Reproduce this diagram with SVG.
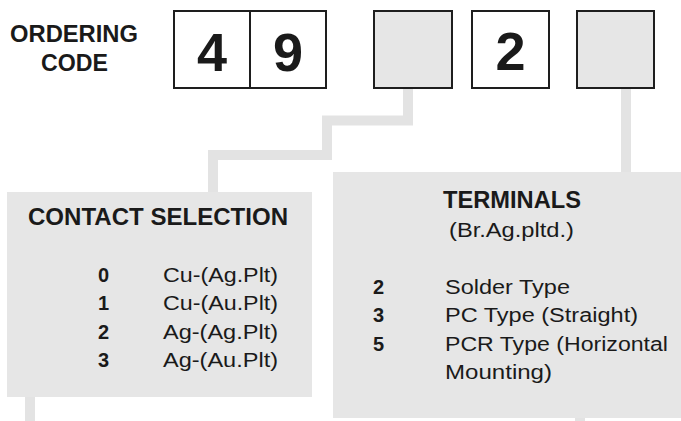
<svg xmlns="http://www.w3.org/2000/svg" width="681" height="421" viewBox="0 0 681 421">
<style>
.code{fill:#fff;stroke:#1e1e1e;stroke-width:2}
.codeg{fill:#e6e6e6;stroke:#1e1e1e;stroke-width:2}
.panel{fill:#e6e6e6}
.conn{fill:none;stroke:#e3e3e3;stroke-width:10;stroke-linejoin:miter}
text{font-family:"Liberation Sans",Arial,Helvetica,sans-serif;fill:#1a1a1a}
.hd{font-weight:bold;font-size:23px}
.big{font-weight:bold;font-size:54px;text-anchor:middle}
.num{font-weight:bold;font-size:20px}
.item{font-size:20px}
</style>
<rect width="681" height="421" fill="#fff"/>
<g id="connectors">
<path class="conn" d="M408 88 V120.5 H327 V155 H213 V193"/>
<path class="conn" d="M626 88 V173"/>
<path class="conn" d="M30 396 V421"/>
<path class="conn" d="M580 417 V421"/>
</g>
<g id="label-ordering-code">
<text class="hd" x="74" y="42" text-anchor="middle" textLength="128" lengthAdjust="spacingAndGlyphs">ORDERING</text>
<text class="hd" x="74.5" y="71" text-anchor="middle" textLength="67" lengthAdjust="spacingAndGlyphs">CODE</text>
</g>
<g id="code-4">
<rect class="code" x="174" y="11" width="76" height="77"/>
<text class="big" x="212" y="71">4</text>
</g>
<g id="code-9">
<rect class="code" x="250" y="11" width="76" height="77"/>
<text class="big" x="288" y="71">9</text>
</g>
<g id="code-contact">
<rect class="codeg" x="374" y="11" width="78" height="77"/>
</g>
<g id="code-2">
<rect class="code" x="472" y="11" width="77" height="77"/>
<text class="big" x="510.5" y="70">2</text>
</g>
<g id="code-terminal">
<rect class="codeg" x="577" y="11" width="77" height="77"/>
</g>
<g id="contact-selection">
<rect class="panel" x="7" y="192" width="305" height="205"/>
<text class="hd" x="158" y="225" text-anchor="middle" textLength="260" lengthAdjust="spacingAndGlyphs">CONTACT SELECTION</text>
<text class="num" x="98" y="282">0</text>
<text class="item" x="163" y="282" textLength="115" lengthAdjust="spacingAndGlyphs">Cu-(Ag.Plt)</text>
<text class="num" x="98" y="310.3">1</text>
<text class="item" x="163" y="310.3" textLength="115" lengthAdjust="spacingAndGlyphs">Cu-(Au.Plt)</text>
<text class="num" x="98" y="338.7">2</text>
<text class="item" x="163" y="338.7" textLength="115" lengthAdjust="spacingAndGlyphs">Ag-(Ag.Plt)</text>
<text class="num" x="98" y="367">3</text>
<text class="item" x="163" y="367" textLength="115" lengthAdjust="spacingAndGlyphs">Ag-(Au.Plt)</text>
</g>
<g id="terminals">
<rect class="panel" x="333" y="172" width="348" height="246"/>
<text class="hd" x="512" y="208" text-anchor="middle" textLength="138" lengthAdjust="spacingAndGlyphs">TERMINALS</text>
<text class="item" x="511.5" y="237" text-anchor="middle" textLength="125" lengthAdjust="spacingAndGlyphs">(Br.Ag.pltd.)</text>
<text class="num" x="373" y="293.5">2</text>
<text class="item" x="445" y="293.5" textLength="125" lengthAdjust="spacingAndGlyphs">Solder Type</text>
<text class="num" x="373" y="322">3</text>
<text class="item" x="445" y="322" textLength="193" lengthAdjust="spacingAndGlyphs">PC Type (Straight)</text>
<text class="num" x="373" y="350.5">5</text>
<text class="item" x="445" y="350.5" textLength="223" lengthAdjust="spacingAndGlyphs">PCR Type (Horizontal</text>
<text class="item" x="445" y="379" textLength="107" lengthAdjust="spacingAndGlyphs">Mounting)</text>
</g>
</svg>
